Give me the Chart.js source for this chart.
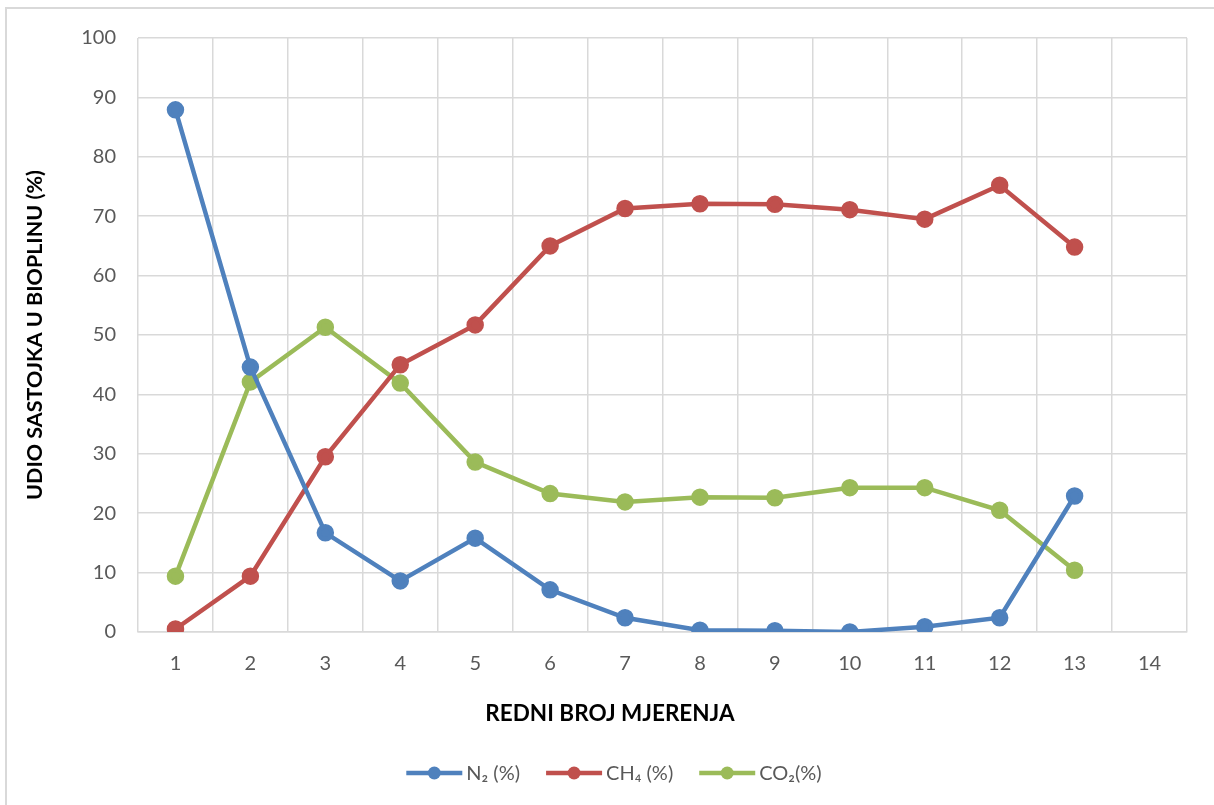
<!DOCTYPE html>
<html>
<head>
<meta charset="utf-8">
<script src="https://cdn.jsdelivr.net/npm/chart.js@4.4.1/dist/chart.umd.min.js"></script>
<style>
  html, body { margin: 0; padding: 0; background: #fff; overflow: hidden; }
  #frame { position: absolute; left: 5px; top: 7px; width: 1300px; height: 900px; border: 2px solid #D9D9D9; box-sizing: border-box; }
  #wrap { position: absolute; left: 0; top: 0; width: 1214px; height: 805px; }
</style>
</head>
<body>
<div id="frame"></div>
<div id="wrap"><canvas id="c" width="1214" height="805"></canvas></div>
<script>
const categories = ['1','2','3','4','5','6','7','8','9','10','11','12','13','14'];
const n2Values  = [87.9, 44.6, 16.7, 8.6, 15.8, 7.1, 2.4, 0.3, 0.2, 0.0, 0.9, 2.4, 22.9];
const ch4Values = [0.5, 9.4, 29.5, 45.0, 51.7, 65.0, 71.3, 72.1, 72.0, 71.1, 69.5, 75.2, 64.8];
const co2Values = [9.4, 42.1, 51.3, 41.9, 28.6, 23.3, 21.9, 22.7, 22.6, 24.3, 24.3, 20.5, 10.4];
const seriesLabels = ['N\u2082 (%)', 'CH\u2084 (%)', 'CO\u2082(%)'];
const yTitle = 'UDIO SASTOJKA U BIOPLINU (%)';
const xTitle = 'REDNI BROJ MJERENJA';

const FONT = "Lato, 'Open Sans', 'Liberation Sans', sans-serif";
const colors = ['#4F81BD', '#C0504D', '#9BBB59'];

function ds(label, data, color) {
  return {
    label, data,
    borderColor: color, backgroundColor: color,
    pointBackgroundColor: color, pointBorderColor: color,
    borderWidth: 4.5, pointRadius: 6.5, pointHoverRadius: 6.5,
    tension: 0, fill: false
  };
}

const bottomPlugin = {
  id: 'bottomText',
  afterDraw(chart) {
    const ctx = chart.ctx;
    ctx.save();
    // X title
    ctx.font = "bold 22.5px " + FONT;
    ctx.fillStyle = '#000';
    ctx.textAlign = 'center';
    ctx.textBaseline = 'middle';
    ctx.fillText(xTitle, 610, 714);
    // Legend
    ctx.font = "20px " + FONT;
    const lineW = 56, gapText = 4, gapItem = 26;
    const items = chart.data.datasets.map(d => ({label: d.label, color: d.borderColor, tw: ctx.measureText(d.label).width}));
    let total = 0;
    items.forEach((it, i) => { total += lineW + gapText + it.tw + (i < items.length - 1 ? gapItem : 0); });
    let x = 614 - total / 2;
    const y = 773;
    items.forEach(it => {
      ctx.strokeStyle = it.color;
      ctx.lineWidth = 4.5;
      ctx.lineCap = 'butt';
      ctx.beginPath(); ctx.moveTo(x, y); ctx.lineTo(x + lineW, y); ctx.stroke();
      ctx.fillStyle = it.color;
      ctx.beginPath(); ctx.arc(x + lineW / 2, y, 6.5, 0, Math.PI * 2); ctx.fill();
      ctx.fillStyle = '#595959';
      ctx.textAlign = 'left';
      ctx.fillText(it.label, x + lineW + gapText, y + 1);
      x += lineW + gapText + it.tw + gapItem;
    });
    ctx.restore();
  }
};

new Chart(document.getElementById('c'), {
  type: 'line',
  data: {
    labels: categories,
    datasets: [
      ds(seriesLabels[0], n2Values, colors[0]),
      ds(seriesLabels[1], ch4Values, colors[1]),
      ds(seriesLabels[2], co2Values, colors[2])
    ]
  },
  options: {
    responsive: false,
    animation: false,
    events: [],
    layout: { padding: { left: 0, top: 38, right: 27, bottom: 113 } },
    plugins: { legend: { display: false }, tooltip: { enabled: false }, title: { display: false } },
    scales: {
      x: {
        type: 'category',
        offset: true,
        grid: { offset: true, color: '#D9D9D9', lineWidth: 1.5, drawTicks: false },
        border: { color: '#D9D9D9', width: 1.5 },
        ticks: { color: '#595959', font: { family: FONT, size: 20 }, padding: 20, maxRotation: 0 },
        afterFit(scale) { scale.height = 60; }
      },
      y: {
        min: 0, max: 100,
        grid: { color: '#D9D9D9', lineWidth: 1.5, drawTicks: false },
        border: { display: false },
        ticks: { stepSize: 10, color: '#595959', font: { family: FONT, size: 20 }, padding: 22 },
        title: { display: true, text: yTitle, color: '#000', font: { family: FONT, size: 21.5, weight: 'bold' }, padding: { top: 22, bottom: 0 } },
        afterFit(scale) { scale.width = 138; }
      }
    }
  },
  plugins: [bottomPlugin]
});
</script>
</body>
</html>
